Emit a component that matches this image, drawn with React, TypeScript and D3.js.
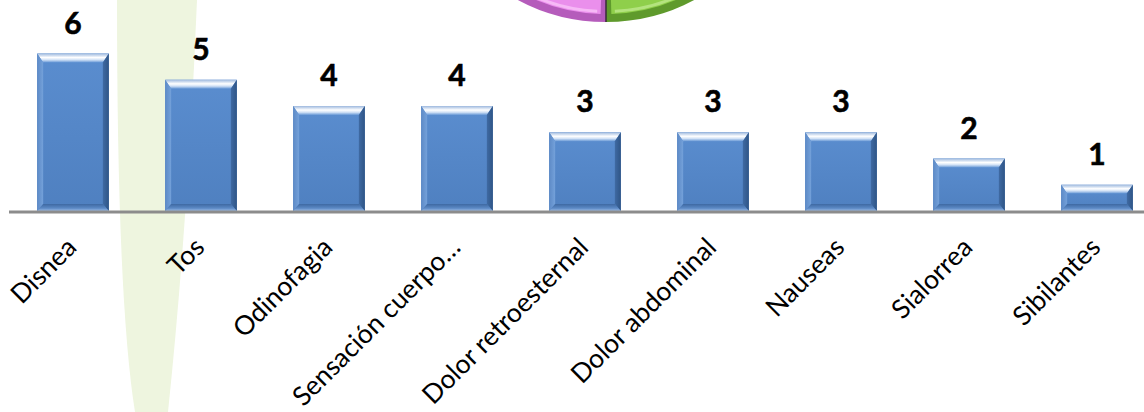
import React from "react";
import * as d3 from "d3";

const categories = [
  "Disnea",
  "Tos",
  "Odinofagia",
  "Sensación cuerpo…",
  "Dolor retroesternal",
  "Dolor abdominal",
  "Nauseas",
  "Sialorrea",
  "Sibilantes",
];
const values = [6, 5, 4, 4, 3, 3, 3, 2, 1];

const W = 1144;
const H = 412;

export default function App() {
  const x = d3
    .scaleBand<string>()
    .domain(categories)
    .range([9, 1161])
    .paddingInner(0.44)
    .paddingOuter(0.22);
  const y = d3.scaleLinear().domain([0, 6]).range([211, 53.5]);
  const bw = x.bandwidth();

  // decorative pie (partially visible at top)
  const pieCx = 606;
  const pieCy = -165;
  const pieR = 187;
  const arc = d3.arc<any>();
  const pinkPath = arc({ innerRadius: 0, outerRadius: pieR, startAngle: Math.PI, endAngle: Math.PI + 0.62 }) as string;
  const greenPath = arc({ innerRadius: 0, outerRadius: pieR, startAngle: Math.PI - 0.62, endAngle: Math.PI }) as string;
  const pinkIn = arc({ innerRadius: 0, outerRadius: pieR - 8, startAngle: Math.PI + 0.03, endAngle: Math.PI + 0.62 }) as string;
  const greenIn = arc({ innerRadius: 0, outerRadius: pieR - 8, startAngle: Math.PI - 0.62, endAngle: Math.PI - 0.03 }) as string;
  const pinkHi = arc({ innerRadius: pieR - 12, outerRadius: pieR - 9, startAngle: Math.PI + 0.05, endAngle: Math.PI + 0.62 }) as string;
  const greenHi = arc({ innerRadius: pieR - 12, outerRadius: pieR - 9, startAngle: Math.PI - 0.62, endAngle: Math.PI - 0.05 }) as string;

  const leaf = "M117,0 L197,0 Q188,220 168,412 L135,412 Q117,300 117,0 Z";

  return (
    <svg
      width={W}
      height={H}
      style={{ position: "absolute", left: 0, top: 0, background: "#fff" }}
    >
      <defs>
        <linearGradient id="face" x1="0" y1="0" x2="0" y2="1">
          <stop offset="0" stopColor="#5a8dcf" />
          <stop offset="1" stopColor="#4f80c0" />
        </linearGradient>
        <linearGradient id="topB" x1="0" y1="0" x2="0" y2="1">
          <stop offset="0" stopColor="#9cb8de" />
          <stop offset="0.45" stopColor="#ffffff" />
          <stop offset="0.7" stopColor="#d2e2f6" />
          <stop offset="1" stopColor="#6798d6" />
        </linearGradient>
        <linearGradient id="leftB" x1="0" y1="0" x2="1" y2="0">
          <stop offset="0" stopColor="#5d8ac6" />
          <stop offset="1" stopColor="#74a1da" />
        </linearGradient>
        <linearGradient id="rightB" x1="0" y1="0" x2="1" y2="0">
          <stop offset="0" stopColor="#3f6aa3" />
          <stop offset="1" stopColor="#2f5586" />
        </linearGradient>
        <linearGradient id="botB" x1="0" y1="0" x2="0" y2="1">
          <stop offset="0" stopColor="#3e69a2" />
          <stop offset="0.6" stopColor="#5c89c5" />
          <stop offset="1" stopColor="#9dbde6" />
        </linearGradient>
      </defs>

      {/* decorative leaf */}
      <path d={leaf} fill="#eef5df" />

      {/* decorative pie */}
      <g transform={`translate(${pieCx},${pieCy})`}>
        <path d={pinkPath} fill="#b55cbb" />
        <path d={pinkIn} fill="#ea8fec" />
        <path d={pinkHi} fill="#f6b9f6" />
        <path d={greenPath} fill="#5f9a2c" />
        <path d={greenIn} fill="#8fcf4b" />
        <path d={greenHi} fill="#b4e37f" />
        <line x1={0} y1={0} x2={0} y2={pieR} stroke="#3a2a3a" strokeWidth={1.5} />
      </g>

      {/* bars */}
      {values.map((v, i) => {
        const c = categories[i];
        const x0 = x(c) as number;
        const x1 = x0 + bw;
        const y0 = y(v);
        const y1 = y(0);
        const h = y1 - y0;
        const bt = Math.min(9, h / 3);
        const bb = Math.min(7, h / 3.5);
        const bs = 6;
        return (
          <g key={c}>
            <rect x={x0} y={y0} width={bw} height={h} fill="url(#face)" />
            <polygon
              points={`${x0},${y0} ${x1},${y0} ${x1 - bs},${y0 + bt} ${x0 + bs},${y0 + bt}`}
              fill="url(#topB)"
            />
            <polygon
              points={`${x0},${y0} ${x0 + bs},${y0 + bt} ${x0 + bs},${y1 - bb} ${x0},${y1}`}
              fill="url(#leftB)"
            />
            <polygon
              points={`${x1},${y0} ${x1 - bs},${y0 + bt} ${x1 - bs},${y1 - bb} ${x1},${y1}`}
              fill="url(#rightB)"
            />
            <polygon
              points={`${x0},${y1} ${x0 + bs},${y1 - bb} ${x1 - bs},${y1 - bb} ${x1},${y1}`}
              fill="url(#botB)"
            />
            <text
              x={x0 + bw / 2}
              y={y0 - 20}
              textAnchor="middle"
              fontFamily="Lato, 'Open Sans', sans-serif"
              fontWeight="bold"
              fontSize={30}
              stroke="#000"
              strokeWidth={0.6}
              fill="#000"
            >
              {v}
            </text>
          </g>
        );
      })}

      {/* baseline */}
      <line x1={9} x2={W} y1={y(0) + 1} y2={y(0) + 1} stroke="#8c8c8c" strokeWidth={3} />

      {/* category labels */}
      {categories.map((c) => {
        const cx = (x(c) as number) + bw / 2 + 5;
        return (
          <text
            key={c}
            transform={`translate(${cx},249) rotate(-45)`}
            textAnchor="end"
            fontFamily="Lato, 'Open Sans', sans-serif"
            fontSize={26.5}
            fill="#000"
          >
            {c}
          </text>
        );
      })}
    </svg>
  );
}
